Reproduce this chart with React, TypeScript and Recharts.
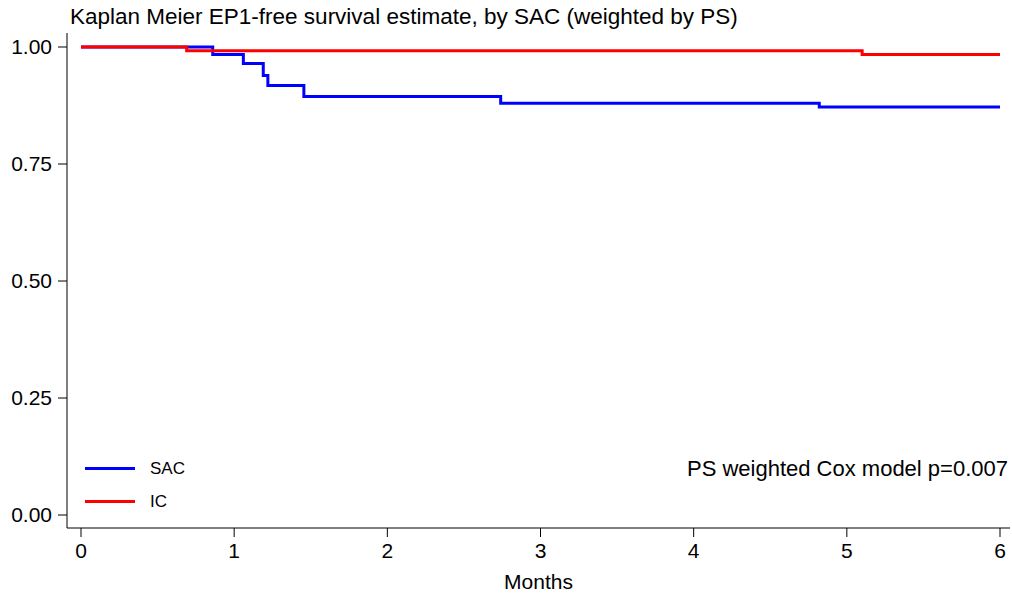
import React from 'react';
import { LineChart, Line, XAxis, YAxis } from 'recharts';

// Kaplan-Meier step values
const sacMonths = [0, 0.86, 1.06, 1.19, 1.22, 1.455, 2.74, 4.82, 6];
const sacSurvival = [1, 0.984, 0.965, 0.939, 0.918, 0.894, 0.88, 0.872, 0.872];
const icMonths = [0, 0.69, 5.1, 6];
const icSurvival = [1, 0.992, 0.984, 0.984];

const xTicks = [0, 1, 2, 3, 4, 5, 6];
const yTicks = [0, 0.25, 0.5, 0.75, 1];

const title = 'Kaplan Meier EP1-free survival estimate, by SAC (weighted by PS)';
const note = 'PS weighted Cox model p=0.007';

const sacData = sacMonths.map((m, i) => ({ month: m, value: sacSurvival[i] }));
const icData = icMonths.map((m, i) => ({ month: m, value: icSurvival[i] }));

const FONT = '"Liberation Sans", Arial, Helvetica, sans-serif';

const legendItems = [
  { name: 'SAC', color: '#0000ff' },
  { name: 'IC', color: '#ff0000' },
];

const App: React.FC = () => {
  return (
    <div style={{ position: 'absolute', left: 0, top: 0, width: 1012, height: 596, background: '#fff' }}>
      <div
        style={{
          position: 'absolute',
          left: 70,
          top: 6,
          fontFamily: FONT,
          fontSize: 22.5,
          lineHeight: 1,
          color: '#000',
          whiteSpace: 'nowrap',
        }}
      >
        {title}
      </div>
      <div
        style={{
          position: 'absolute',
          right: 4,
          top: 458,
          fontFamily: FONT,
          fontSize: 22,
          lineHeight: 1,
          color: '#000',
          whiteSpace: 'nowrap',
          zIndex: 2,
        }}
      >
        {note}
      </div>
      <div style={{ position: 'absolute', left: 85, top: 452, fontFamily: FONT, fontSize: 17, color: '#000', zIndex: 2 }}>
        {legendItems.map((item) => (
          <div key={item.name} style={{ display: 'flex', alignItems: 'center', height: 33 }}>
            <div style={{ width: 50, height: 3, background: item.color, marginRight: 15 }} />
            <span>{item.name}</span>
          </div>
        ))}
      </div>
      <LineChart width={1012} height={596} margin={{ top: 33, right: 2, left: 0, bottom: 0 }}>
        <XAxis
          dataKey="month"
          type="number"
          domain={[0, 6]}
          ticks={xTicks}
          allowDuplicatedCategory={false}
          padding={{ left: 14, right: 10 }}
          height={68}
          tickSize={9}
          tickMargin={6}
          stroke="#000"
          tick={{ fill: '#000', fontSize: 21, fontFamily: FONT }}
          label={{ value: 'Months', position: 'insideBottom', offset: 7, fill: '#000', fontSize: 21, fontFamily: FONT }}
        />
        <YAxis
          dataKey="value"
          type="number"
          domain={[0, 1]}
          ticks={yTicks}
          width={67}
          padding={{ top: 14, bottom: 13 }}
          tickSize={9}
          tickMargin={6}
          stroke="#000"
          tickFormatter={(v: number) => v.toFixed(2)}
          tick={{ fill: '#000', fontSize: 21, fontFamily: FONT }}
        />
        <Line
          data={sacData}
          dataKey="value"
          name="SAC"
          type="stepAfter"
          stroke="#0000ff"
          strokeWidth={3}
          dot={false}
          isAnimationActive={false}
        />
        <Line
          data={icData}
          dataKey="value"
          name="IC"
          type="stepAfter"
          stroke="#ff0000"
          strokeWidth={3}
          dot={false}
          isAnimationActive={false}
        />
      </LineChart>
    </div>
  );
};

export default App;
